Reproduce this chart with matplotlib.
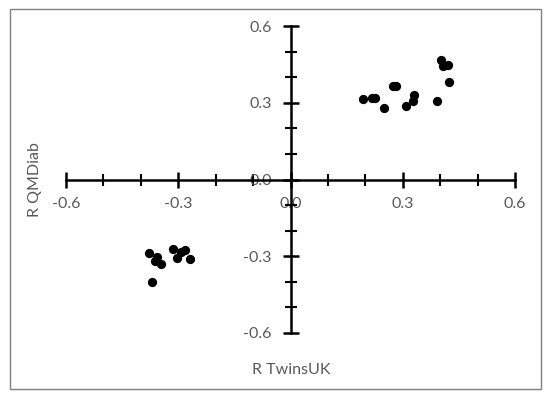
import matplotlib
matplotlib.use("Agg")
import numpy as np
from matplotlib import pyplot as plt
from matplotlib.patches import Rectangle
from matplotlib.ticker import MultipleLocator

# positive cluster
pos_x = [0.195, 0.217, 0.226, 0.251, 0.273, 0.283, 0.309, 0.327, 0.331,
         0.392, 0.403, 0.407, 0.421, 0.423]
pos_y = [0.313, 0.319, 0.319, 0.279, 0.366, 0.366, 0.287, 0.305, 0.330,
         0.308, 0.469, 0.442, 0.446, 0.383]
# negative cluster
neg_x = [-0.377, -0.363, -0.357, -0.347, -0.371, -0.315, -0.303, -0.292,
         -0.281, -0.269]
neg_y = [-0.288, -0.317, -0.301, -0.332, -0.402, -0.273, -0.308, -0.285,
         -0.277, -0.310]

tick_vals = [-0.6, -0.3, 0.0, 0.3, 0.6]
tick_labels = ["-0.6", "-0.3", "0.0", "0.3", "0.6"]

plt.rcParams['font.family'] = ['Lato', 'DejaVu Sans']
grey = '#595959'

fig = plt.figure(figsize=(5.5, 3.98), dpi=100)
ax = fig.add_axes([66 / 550, 65 / 398, 449 / 550, 307 / 398])

ax.scatter(pos_x + neg_x, pos_y + neg_y, s=32, color='black', zorder=3,
           clip_on=False)

ax.set_xlim(-0.6, 0.6)
ax.set_ylim(-0.6, 0.6)

for side in ['top', 'right']:
    ax.spines[side].set_visible(False)
for side in ['left', 'bottom']:
    ax.spines[side].set_position(('data', 0))
    ax.spines[side].set_linewidth(1.8)

ax.set_xticks(tick_vals)
ax.set_xticklabels(tick_labels)
ax.set_yticks(tick_vals)
ax.set_yticklabels(tick_labels)
ax.xaxis.set_minor_locator(MultipleLocator(0.1))
ax.yaxis.set_minor_locator(MultipleLocator(0.1))
ax.tick_params(which='major', direction='inout', length=11, width=1.8,
               labelsize=11.5, labelcolor=grey)
ax.tick_params(which='minor', direction='inout', length=9, width=1.5)
ax.tick_params(axis='x', which='major', pad=7)
ax.tick_params(axis='y', which='major', pad=8)

fig.text(35 / 550, 1 - 180 / 398, 'R QMDiab', rotation=90, ha='center',
         va='center', fontsize=11.5, color=grey)
fig.text(291 / 550, 1 - 370 / 398, 'R TwinsUK', ha='center', va='center',
         fontsize=11.5, color=grey)

fig.patches.append(Rectangle((10 / 550, 9 / 398), 531 / 550, 380 / 398,
                             transform=fig.transFigure, fill=False,
                             edgecolor='#7f7f7f', linewidth=1.0))

fig.savefig('out.png', dpi=100)
